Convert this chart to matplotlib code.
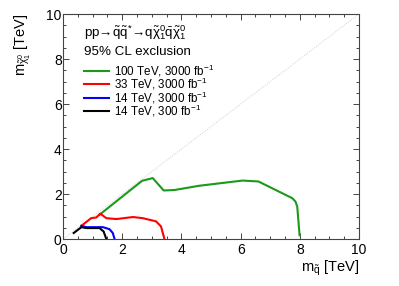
import numpy as np
import matplotlib
matplotlib.use('Agg')
import matplotlib.pyplot as plt

plt.rcParams['font.family'] = ['Liberation Sans', 'DejaVu Sans']
plt.rcParams['mathtext.fontset'] = 'custom'
plt.rcParams['mathtext.rm'] = 'Liberation Sans'
plt.rcParams['mathtext.it'] = 'Liberation Sans'
plt.rcParams['mathtext.default'] = 'regular'

# exclusion contours (m_squark, m_neutralino) in TeV
x_100 = [1.23, 2.67, 3.03, 3.40, 3.76, 4.60, 6.06, 6.60, 7.74, 7.85, 7.91, 7.99]
y_100 = [1.08, 2.59, 2.71, 2.16, 2.18, 2.37, 2.60, 2.56, 1.82, 1.67, 1.45, 0.17]

x_33 = [0.62, 0.95, 1.12, 1.26, 1.46, 1.80, 2.36, 2.69, 3.14, 3.31, 3.37, 3.42]
y_33 = [0.59, 0.93, 0.96, 1.13, 0.93, 0.89, 0.98, 0.93, 0.79, 0.56, 0.27, 0.03]

x_14a = [0.62, 0.79, 1.35, 1.57, 1.68, 1.74]
y_14a = [0.59, 0.53, 0.53, 0.44, 0.27, 0.01]

x_14b = [0.36, 0.62, 0.79, 1.23, 1.37, 1.46]
y_14b = [0.27, 0.53, 0.49, 0.49, 0.34, 0.01]

labels = ['100 TeV, 3000 fb$^{-1}$', '33 TeV, 3000 fb$^{-1}$',
          '14 TeV, 3000 fb$^{-1}$', '14 TeV, 300 fb$^{-1}$']
colors = ['#1a9a1a', '#ff0000', '#0000ff', '#000000']

fig = plt.figure(figsize=(3.99, 2.86), dpi=100)
ax = fig.add_axes([0.158, 0.164, 0.742, 0.787])

ax.plot([0, 10], [0, 10], color='#c0c0c0', lw=0.6, ls=':')

series = [(x_100, y_100), (x_33, y_33), (x_14a, y_14a), (x_14b, y_14b)]
for (xs, ys), c in zip(series, colors):
    ax.plot(xs, ys, color=c, lw=1.5)

ax.set_xlim(0, 10)
ax.set_ylim(0, 10)
ax.set_xticks([0, 2, 4, 6, 8, 10])
ax.set_yticks([0, 2, 4, 6, 8, 10])
ax.set_xticks(np.arange(0, 10.01, 0.5), minor=True)
ax.set_yticks(np.arange(0, 10.01, 0.5), minor=True)
ax.tick_params(which='both', direction='in', top=True, right=True,
               labelsize=10, color='#444444')
ax.tick_params(which='major', length=4.5, width=0.7)
ax.tick_params(which='minor', length=2.2, width=0.7)
ax.tick_params(axis='x', pad=3)
ax.tick_params(axis='y', pad=1)
for s in ax.spines.values():
    s.set_color('#444444')
    s.set_linewidth(0.8)

ax.set_xlabel(r'm$_{\tilde{q}}$ [TeV]', fontsize=10.5, loc='right', labelpad=1)
ax.set_ylabel(r'm$_{\tilde{\chi}_1^0}$ [TeV]', fontsize=10.5, loc='top')
ax.yaxis.set_label_coords(-0.10, 1.0)

ax.text(0.070, 0.917, r'pp→$\tilde{q}\tilde{q}^{*}$→q$\tilde{\chi}_1^0\bar{q}\tilde{\chi}_1^0$',
        transform=ax.transAxes, fontsize=9.6, va='center', ha='left')
ax.text(0.070, 0.832, '95% CL exclusion', transform=ax.transAxes,
        fontsize=9.6, va='center', ha='left')

# legend entries
rows = [0.748, 0.689, 0.629, 0.570]
for yr, c, lab in zip(rows, colors, labels):
    ax.plot([0.070, 0.155], [yr, yr], color=c, lw=1.5, transform=ax.transAxes)
    ax.text(0.172, yr, lab, transform=ax.transAxes, fontsize=8.4,
            va='center', ha='left')

fig.savefig('out.png', dpi=100)
